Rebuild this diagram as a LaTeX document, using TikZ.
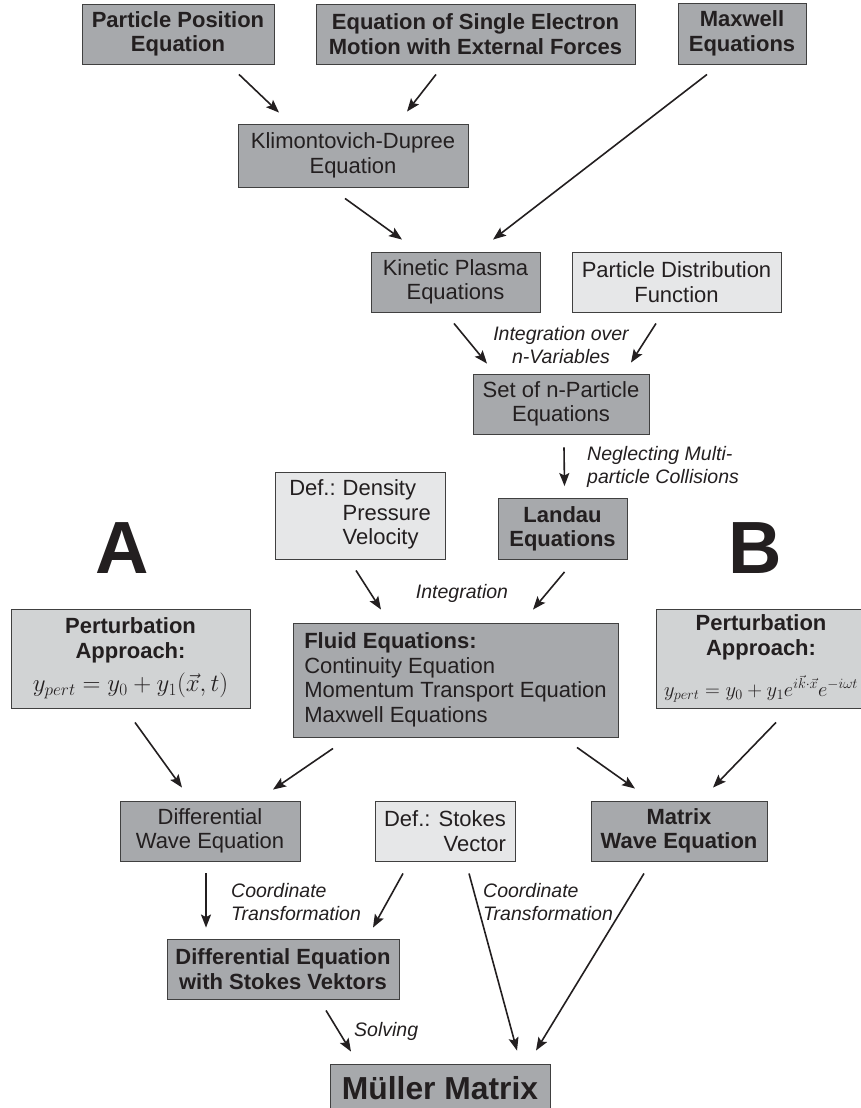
\documentclass[tikz,border=0pt]{standalone}
\usepackage{graphicx}
\usepackage{fontspec}
\setmainfont{Liberation Sans}
\usetikzlibrary{arrows.meta,calc}
\definecolor{gmid}{HTML}{A7A9AC}
\definecolor{glight}{HTML}{E6E7E8}
\definecolor{gpert}{HTML}{D1D3D4}
\definecolor{ink}{HTML}{231F20}
\begin{document}
\begin{tikzpicture}[x=1pt,y=-1pt,
 box/.style={draw=black!75, line width=0.9pt, inner sep=0pt, align=center, text=ink, font=\fontsize{22}{24.5}\selectfont},
 boldtxt/.style={font=\fontsize{22}{24.5}\selectfont\bfseries},
 midbox/.style={box, fill=gmid},
 lightbox/.style={box, fill=glight},
 pertbox/.style={box, fill=gpert},
 lbl/.style={font=\fontsize{19.5}{22.5}\selectfont\itshape, text=ink, inner sep=0pt},
 bigletter/.style={font=\fontsize{74}{80}\selectfont\bfseries, text=ink, inner sep=0pt},
 arr/.style={draw=ink, line width=1.6pt, -{Stealth[length=13pt,width=10pt,inset=2.5pt]}},
]
\useasboundingbox (0,0) rectangle (861,1108);
\fill[white] (0,0) rectangle (861,1108);

% top row
\node[midbox, boldtxt, minimum width=192pt, minimum height=60pt] (pp) at (178,34) {Particle Position\\Equation};
\node[midbox, boldtxt, minimum width=319pt, minimum height=60pt] (ese) at (475.5,34) {Equation of Single Electron\\Motion with External Forces};
\node[midbox, boldtxt, minimum width=128pt, minimum height=61pt] (mx) at (742,33.5) {Maxwell\\Equations};

\node[midbox, minimum width=230pt, minimum height=63pt] (kd) at (353,155.5) {Klimontovich-Dupree\\Equation};

\node[midbox, minimum width=169pt, minimum height=60pt] (kp) at (455.5,282) {Kinetic Plasma\\Equations};
\node[lightbox, minimum width=209pt, minimum height=60pt] (pdf) at (676.5,282) {Particle Distribution\\Function};

\node[midbox, minimum width=176pt, minimum height=60pt] (set) at (561,404) {Set of n-Particle\\Equations};

\node[midbox, boldtxt, minimum width=129pt, minimum height=61pt] (lan) at (562.5,529) {Landau\\Equations};
\node[lightbox, minimum width=170pt, minimum height=87pt] (def) at (360,515.5) {\begin{tabular}{@{}l@{\hspace{7pt}}l@{}}Def.: & Density\\ & Pressure\\ & Velocity\end{tabular}};

\node[bigletter] (A) at (122,548) {A};
\node[bigletter] (B) at (755,548) {B};

\node[pertbox, boldtxt, minimum width=239pt, minimum height=99pt] (pl) at (130.5,658.5) {Perturbation\\Approach:\\[9pt]{\fontsize{26}{28}\selectfont$y_{pert} = y_0 + y_1(\vec{x},t)$}};
\node[midbox, minimum width=325pt, minimum height=114pt, align=left] (fl) at (455.5,680) {\textbf{Fluid Equations:}\\Continuity Equation\\Momentum Transport Equation\\Maxwell Equations};
\node[pertbox, boldtxt, minimum width=210pt, minimum height=99pt] (pr) at (761,658.5) {Perturbation\\Approach:\\[14pt]\resizebox{194pt}{!}{\fontsize{22}{26}\selectfont$y_{pert}=y_0+y_1e^{i\vec{k}\cdot\vec{x}}e^{-i\omega t}$}};

\node[midbox, minimum width=180pt, minimum height=60pt] (dw) at (210,831) {Differential\\Wave Equation};
\node[lightbox, minimum width=140pt, minimum height=60pt, align=right] (sv) at (445,831) {Def.: Stokes\\Vector};
\node[midbox, boldtxt, minimum width=176pt, minimum height=60pt] (mw) at (679,831) {Matrix\\Wave Equation};

\node[midbox, boldtxt, minimum width=232pt, minimum height=60pt] (des) at (283,969) {Differential Equation\\with Stokes Vektors};

\node[midbox, font=\fontsize{31.8}{36}\selectfont\bfseries, minimum width=220pt, minimum height=48pt] (mm) at (440,1088) {M\"uller Matrix};

% labels
\node[lbl, align=center] (l1) at (561,345) {Integration over\\n-Variables};
\node[lbl, align=left, anchor=west] (l2) at (587,467) {Neglecting Multi-\\particle Collisions};
\node[lbl] (l3) at (462,593) {Integration};
\node[lbl, align=left, anchor=west] (l4) at (231,902) {Coordinate\\Transformation};
\node[lbl, align=left, anchor=west] (l5) at (483,902) {Coordinate\\Transformation};
\node[lbl, anchor=west] (l6) at (354,1031) {Solving};

% arrows
\draw[arr] ($(pp.south)+(61,10)$) -- ($(kd.north)+(-74,-11)$);
\draw[arr] ($(ese.south)+(-39.5,10)$) -- ($(kd.north)+(54,-12)$);
\draw[arr] ($(mx.south)+(-35,10)$) -- ($(kp.north)+(37.5,-12)$);
\draw[arr] ($(kd.south)+(-8,11)$) -- ($(kp.north)+(-53.5,-12)$);
\draw[arr] ($(kp.south)+(-1.5,11)$) -- ($(set.north)+(-74,-10)$);
\draw[arr] ($(pdf.south)+(-20.5,11)$) -- ($(set.north)+(70,-11)$);
\draw[arr] ($(set.south)+(3,13)$) -- ($(lan.north)+(2,-12)$);
\draw[arr] ($(def.south)+(-4,11)$) -- ($(fl.north)+(-74.5,-13)$);
\draw[arr] ($(lan.south)+(2,12)$) -- ($(fl.north)+(77.5,-13)$);
\draw[arr] ($(pl.south)+(4.5,14)$) -- ($(dw.north)+(-28,-13)$);
\draw[arr] ($(fl.south)+(-122.5,11)$) -- ($(dw.north)+(63,-11)$);
\draw[arr] ($(fl.south)+(121.5,10)$) -- ($(mw.north)+(-44,-12)$);
\draw[arr] ($(pr.south)+(15,14)$) -- ($(mw.north)+(34,-13)$);
\draw[arr] ($(dw.south)+(-4,12)$) -- ($(des.north)+(-77,-11)$);
\draw[arr] ($(sv.south)+(-42,12)$) -- ($(des.north)+(90,-11)$);
\draw[arr] ($(sv.south)+(24,12)$) -- ($(mm.north)+(77,-13)$);
\draw[arr] ($(mw.south)+(-35,12)$) -- ($(mm.north)+(96,-13)$);
\draw[arr] ($(des.south)+(43,11)$) -- ($(mm.north)+(-89,-12)$);
\end{tikzpicture}
\end{document}
